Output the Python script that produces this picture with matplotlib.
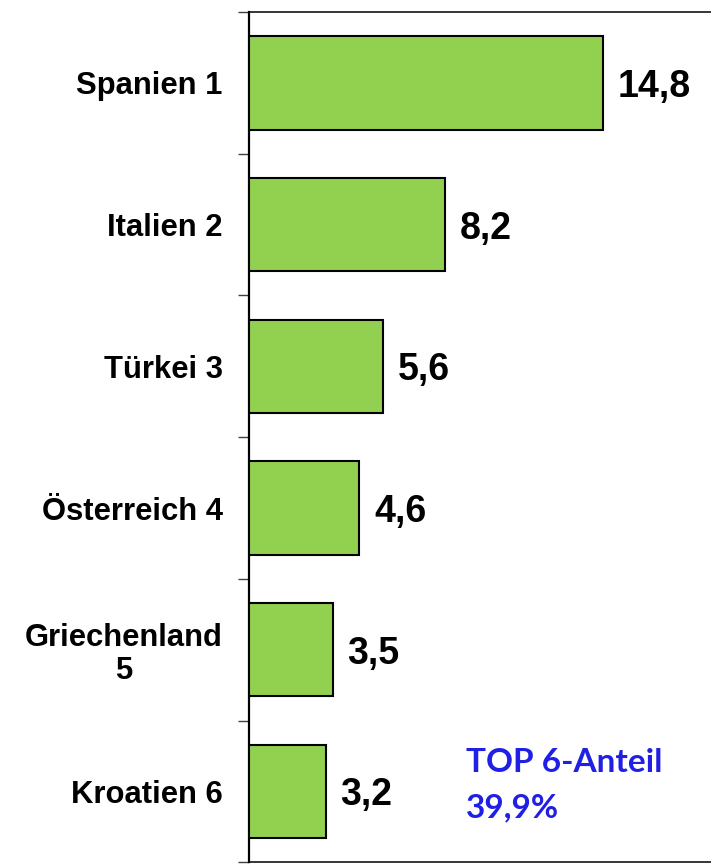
import matplotlib

matplotlib.use("Agg")

import matplotlib.pyplot as plt
import numpy as np

# Reiseziele, Anteil in Prozent
LAENDER = ["Spanien 1", "Italien 2", "Türkei 3", "Österreich 4", "Griechenland\n5", "Kroatien 6"]
ANTEILE = [14.8, 8.2, 5.6, 4.6, 3.5, 3.2]
TOP6_TITEL = "TOP 6-Anteil"
TOP6_WERT = "39,9%"

BAR_COLOR = "#92D050"
BLUE = "#1F1FE6"

plt.rcParams["font.family"] = ["Liberation Sans", "DejaVu Sans"]

fig = plt.figure(figsize=(7.11, 8.64), dpi=100)
ax = fig.add_axes([249 / 711, 0.002, 1 - 249 / 711, 0.984])

y = np.arange(len(ANTEILE)) + 0.5
ax.barh(y, ANTEILE, height=0.66, color=BAR_COLOR, edgecolor="black",
        linewidth=1.5, zorder=3)

for yi, v in zip(y, ANTEILE):
    ax.text(v + 0.62, yi, f"{v:.1f}".replace(".", ","), ha="left",
            va="center_baseline", fontsize=27, fontweight="bold", color="black")

ax.set_xlim(0, 19.3)
ax.set_ylim(len(ANTEILE), 0)

ax.set_yticks(y)
ax.set_yticklabels(LAENDER, fontsize=22.3, fontweight="bold")
for lab in ax.get_yticklabels():
    lab.set_multialignment("center")
    lab.set_linespacing(1.1)
ax.set_yticks(np.arange(len(ANTEILE) + 1), minor=True)
ax.tick_params(axis="y", which="major", length=0, pad=19)
ax.tick_params(axis="y", which="minor", length=8, width=1, color="#404040")
ax.set_xticks([])

ax.spines["right"].set_visible(False)
ax.spines["left"].set_linewidth(1.6)
ax.spines["top"].set_linewidth(1.1)
ax.spines["bottom"].set_linewidth(1.1)

top6_font = dict(ha="left", va="baseline", fontsize=24, fontweight="bold",
                 color=BLUE, family=["Lato", "DejaVu Sans"])
ax.text(9.08, 5.366, TOP6_TITEL, **top6_font)
ax.text(9.08, 5.683, TOP6_WERT, **top6_font)

fig.savefig("out.png", dpi=100)
